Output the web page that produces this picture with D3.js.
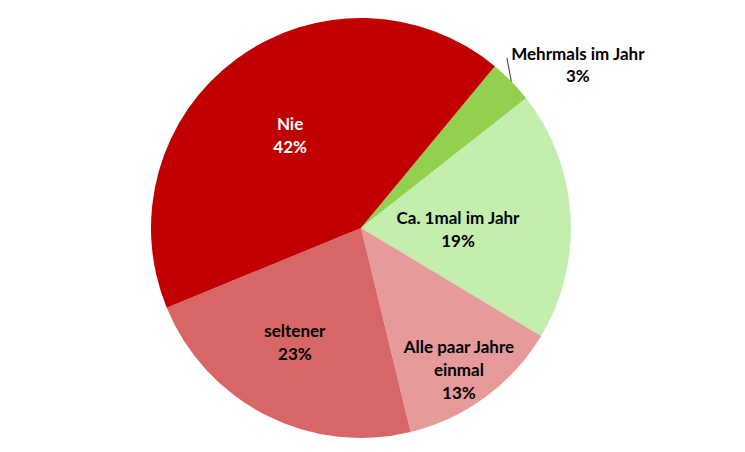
<!DOCTYPE html>
<html><head><meta charset="utf-8">
<script src="https://cdn.jsdelivr.net/npm/d3@7"></script>
<style>html,body{margin:0;padding:0;background:#fff;}svg{display:block;}</style>
</head><body>
<svg id="chart" width="745" height="452"></svg>
<script>
const categories = ["Mehrmals im Jahr", "Ca. 1mal im Jahr", "Alle paar Jahre einmal", "seltener", "Nie"];
const values = [3.4, 19.2, 12.6, 22.6, 42.2];
const percentLabels = ["3%", "19%", "13%", "23%", "42%"];
const colors = ["#92D050", "#C3EEAE", "#E69A9A", "#D96666", "#C00000"];

const svg = d3.select("#chart");
const cx = 361, cy = 228, R = 210;
const g = svg.append("g").attr("transform", `translate(${cx},${cy})`);

const startDeg = 39.6;
const pie = d3.pie().sort(null).value(d => d)
  .startAngle(startDeg * Math.PI / 180)
  .endAngle((startDeg + 360) * Math.PI / 180);
const arcs = pie(values);
const arc = d3.arc().innerRadius(0).outerRadius(R);

g.selectAll("path.slice").data(arcs).enter().append("path")
  .attr("class", "slice")
  .attr("d", arc)
  .attr("fill", (d, i) => colors[i]);

const layout = [
  {outside: true},
  {r: 0.462, off: 4.5, lines: ["Ca. 1mal im Jahr"]},
  {r: 0.82, off: 1.7, lines: ["Alle paar Jahre", "einmal"]},
  {r: 0.63, off: 3, lines: ["seltener"]},
  {r: 0.554, off: -1.2, lines: ["Nie"]}
];
const lh = 23;
const fs = 17;
const font = "Lato, 'Open Sans', sans-serif";

arcs.forEach((a, i) => {
  const L = layout[i];
  const mid = (a.startAngle + a.endAngle) / 2;
  if (L.outside) {
    const p1 = [R * Math.sin(mid), -R * Math.cos(mid)];
    const a2 = mid - 5.1 * Math.PI / 180;
    const p2 = [R * 1.067 * Math.sin(a2), -R * 1.067 * Math.cos(a2)];
    g.append("line").attr("x1", p1[0]).attr("y1", p1[1]).attr("x2", p2[0]).attr("y2", p2[1])
      .attr("stroke", "#000").attr("stroke-width", 0.8);
    const tx = p2[0] + 71, ty = p2[1] + 2;
    const t = g.append("text").attr("text-anchor", "middle").attr("font-family", font)
      .attr("font-weight", "bold").attr("font-size", fs).attr("fill", "#000");
    t.append("tspan").attr("x", tx).attr("y", ty).text(categories[i]);
    t.append("tspan").attr("x", tx).attr("y", ty + lh - 1).text(percentLabels[i]);
    return;
  }
  const ang = mid + L.off * Math.PI / 180;
  const px = L.r * R * Math.sin(ang), py = -L.r * R * Math.cos(ang);
  const lines = L.lines.concat([percentLabels[i]]);
  const n = lines.length;
  const t = g.append("text").attr("text-anchor", "middle").attr("font-family", font)
    .attr("font-weight", "bold").attr("font-size", fs)
    .attr("fill", i === 4 ? "#fff" : "#000");
  lines.forEach((s, k) => {
    t.append("tspan").attr("x", px).attr("y", py + (k - (n - 1) / 2) * lh + 6).text(s);
  });
});
</script>
</body></html>
